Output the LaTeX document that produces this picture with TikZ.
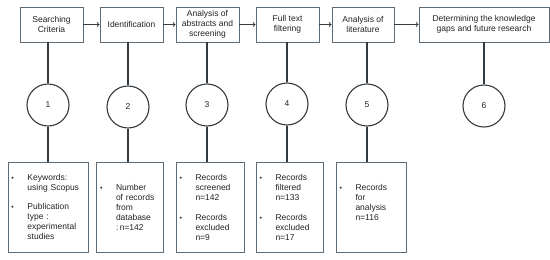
\documentclass[tikz,border=0pt]{standalone}
\usepackage{fontspec}
\setmainfont{Liberation Sans}
\usetikzlibrary{positioning}
\definecolor{boxline}{HTML}{5B6B78}
\definecolor{stemline}{HTML}{333A40}
\definecolor{txt}{HTML}{222222}
\newcommand{\itm}{\makebox[16pt][l]{\scriptsize\textbullet}}
\newcommand{\ind}{\hspace*{16pt}}
\begin{document}
\begin{tikzpicture}[
    x=1pt, y=-1pt,
    every node/.style={font=\fontsize{8.5}{10}\selectfont, text=txt},
    phase/.style={draw=boxline, line width=0.9pt, align=center, minimum height=35pt, inner sep=2pt},
    stage/.style={draw=stemline, line width=1.1pt, circle, minimum size=42pt, inner sep=0pt},
    detail/.style={draw=boxline, line width=0.9pt, align=left, minimum height=90pt, inner sep=0pt},
    stem/.style={draw=stemline, line width=1.6pt},
    flow/.style={->, draw=stemline, line width=0.9pt}
]
    \useasboundingbox (0,0) rectangle (550,260);

    % phases along the top
    \node[phase, minimum width=63pt] (search) at (51.5,24.5) {Searching\\Criteria};
    \node[phase, minimum width=63pt] (ident) at (131.5,24.5) {Identification};
    \node[phase, minimum width=63pt] (screen) at (207.5,24.5) {Analysis of\\abstracts and\\screening};
    \node[phase, minimum width=63pt] (fulltext) at (287.5,24.5) {Full text\\filtering};
    \node[phase, minimum width=62pt] (litana) at (363,24.5) {Analysis of\\literature};
    \node[phase, minimum width=130pt] (gaps) at (484,24.5) {Determining the knowledge\\gaps and future research};

    \draw[flow] (search) -- (ident);
    \draw[flow] (ident) -- (screen);
    \draw[flow] (screen) -- (fulltext);
    \draw[flow] (fulltext) -- (litana);
    \draw[flow] (litana) -- (gaps);

    % numbered stages
    \node[stage] (s1) at (48,105) {1};
    \node[stage] (s2) at (128,107) {2};
    \node[stage] (s3) at (207,105) {3};
    \node[stage] (s4) at (287,104) {4};
    \node[stage] (s5) at (367,105) {5};
    \node[stage] (s6) at (484,106) {6};

    % details below
    \node[detail, minimum width=80pt, text width=73pt] (d1) at (48,207)
        {\itm Keywords:\\ \ind using Scopus\\[9pt]\itm Publication\\ \ind type :\\ \ind experimental\\ \ind studies};
    \node[detail, minimum width=67pt, text width=59pt] (d2) at (129.5,207)
        {\itm Number\\ \ind of records\\ \ind from\\ \ind database\\ \ind :\,n=142};
    \node[detail, minimum width=68pt, text width=61pt] (d3) at (210,207)
        {\itm Records\\ \ind screened\\ \ind n=142\\[10pt]\itm Records\\ \ind excluded\\ \ind n=9};
    \node[detail, minimum width=67pt, text width=60pt] (d4) at (289.5,207)
        {\itm Records\\ \ind filtered\\ \ind n=133\\[10pt]\itm Records\\ \ind excluded\\ \ind n=17};
    \node[detail, minimum width=70pt, text width=63pt] (d5) at (371,207)
        {\itm Records\\ \ind for\\ \ind analysis\\ \ind n=116\\ \mbox{}};

    \foreach \p/\s in {search/s1, ident/s2, screen/s3, fulltext/s4, litana/s5, gaps/s6}
        \draw[stem] (\s.north) -- (\s.north |- \p.south);
    \foreach \s/\d in {s1/d1, s2/d2, s3/d3, s4/d4, s5/d5}
        \draw[stem] (\s.south) -- (\s.south |- \d.north);
\end{tikzpicture}
\end{document}
